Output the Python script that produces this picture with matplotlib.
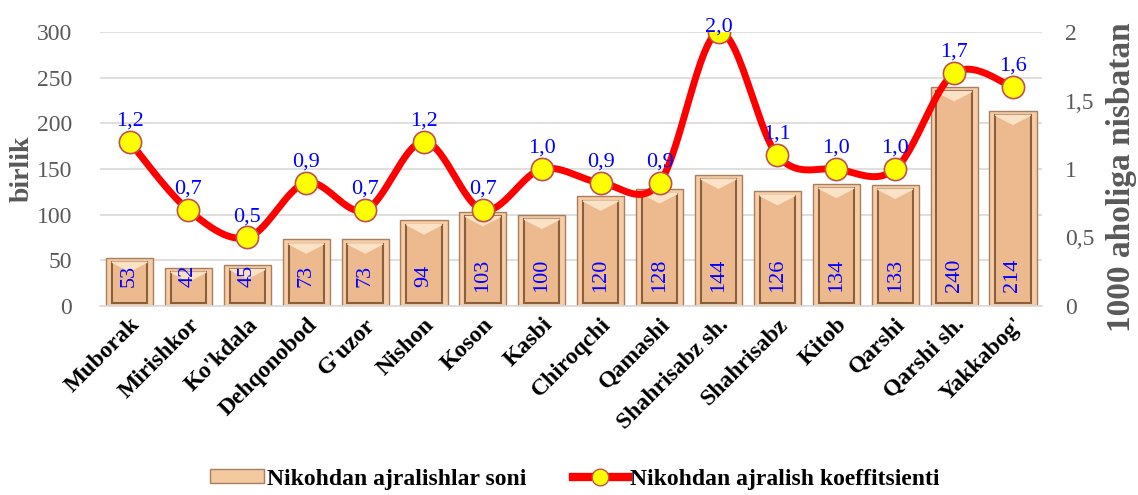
import numpy as np
import matplotlib
matplotlib.use('Agg')
import matplotlib.pyplot as plt
from matplotlib.patches import Rectangle
from matplotlib.lines import Line2D

plt.rcParams['font.family'] = ['Liberation Serif', 'DejaVu Serif']

# data
districts = ["Muborak", "Mirishkor", "Ko'kdala", "Dehqonobod", "G'uzor", "Nishon",
             "Koson", "Kasbi", "Chiroqchi", "Qamashi", "Shahrisabz sh.", "Shahrisabz",
             "Kitob", "Qarshi", "Qarshi sh.", "Yakkabog'"]
divorces = [53, 42, 45, 73, 73, 94, 103, 100, 120, 128, 144, 126, 134, 133, 240, 214]
coef = [1.2, 0.7, 0.5, 0.9, 0.7, 1.2, 0.7, 1.0, 0.9, 0.9, 2.0, 1.1, 1.0, 1.0, 1.7, 1.6]

gray = '#595959'
blue = '#0000FF'

fig = plt.figure(figsize=(11.38, 4.95), dpi=100)
ax = fig.add_axes([0.088, 0.382, 0.828, 0.553])
ax2 = ax.twinx()

x = np.arange(len(districts))

# bars with a bevel look
ax.bar(x, divorces, width=0.8, color='#F6CDA6', edgecolor='#A87E5E', linewidth=1.0, zorder=2)
inner_h = [max(v - 8, 0) for v in divorces]
ax.bar(x, inner_h, width=0.6, bottom=3, color='#EDBA8F', edgecolor='#8B5E3C',
       linewidth=1.5, zorder=3)
for i, v in enumerate(divorces):
    ax.add_patch(plt.Polygon([[i - 0.3, v - 5], [i + 0.3, v - 5], [i, v - 15]],
                             closed=True, color='#FAE2C6', zorder=4))
    ax.text(i, 33, str(v), rotation=90, ha='center', va='center', color=blue,
            fontsize=16, zorder=5)

ax.set_ylim(0, 300)
ax.set_xlim(-0.5, len(districts) - 0.5)
ax.set_yticks(range(0, 301, 50))
ax.yaxis.grid(True, color='#D9D9D9', linewidth=1.2, zorder=0)
ax.set_axisbelow(True)
ax.tick_params(axis='y', length=0, labelsize=17, labelcolor=gray, pad=20)
ax.set_xticks(x)
ax.set_xticklabels(districts, rotation=45, ha='right', rotation_mode='anchor',
                   fontsize=17, fontweight='bold')
ax.tick_params(axis='x', length=0, pad=6)
for s in ['top', 'right', 'left']:
    ax.spines[s].set_visible(False)
ax.spines['bottom'].set_color('#D9D9D9')
ax.spines['bottom'].set_linewidth(1.2)
ax.set_ylabel('birlik', fontsize=20, fontweight='bold', color=gray, labelpad=2)

# smoothed line (Bezier through points, like Excel smoothing)
xs, ys = [], []
p = np.array(list(zip(x, coef)), dtype=float)
n = len(p)
for i in range(n - 1):
    p0 = p[i - 1] if i > 0 else p[i]
    p1 = p[i]
    p2 = p[i + 1]
    p3 = p[i + 2] if i + 2 < n else p[i + 1]
    c1 = p1 + (p2 - p0) / 6
    c2 = p2 - (p3 - p1) / 6
    t = np.linspace(0, 1, 30)[:, None]
    seg = (1 - t) ** 3 * p1 + 3 * (1 - t) ** 2 * t * c1 + 3 * (1 - t) * t ** 2 * c2 + t ** 3 * p2
    xs.extend(seg[:, 0])
    ys.extend(seg[:, 1])
ax2.plot(xs, ys, color='#FF0000', linewidth=5, zorder=6, solid_capstyle='round')
ax2.plot(x, coef, linestyle='none', marker='o', markersize=16, markerfacecolor='#FFFF00',
         markeredgecolor='#C0504D', markeredgewidth=1.2, zorder=7)
for i, c in enumerate(coef):
    off = 15 if c + 0.15 <= 2.0 else 4
    ax2.annotate(f'{c:.1f}'.replace('.', ','), (i, c), xytext=(0, off),
                 textcoords='offset points', ha='center', va='center',
                 color=blue, fontsize=16, zorder=8)

ax2.set_ylim(0, 2)
ax2.set_yticks([0, 0.5, 1, 1.5, 2])
ax2.set_yticklabels(['0', '0,5', '1', '1,5', '2'])
ax2.tick_params(axis='y', length=0, labelsize=17, labelcolor=gray, pad=16)
for s in ['top', 'right', 'left', 'bottom']:
    ax2.spines[s].set_visible(False)
ax2.set_ylabel('1000 aholiga nisbatan', fontsize=24, fontweight='bold', color=gray)
ax2.yaxis.set_label_coords(1.067, 0.47)

# legend
h1 = Rectangle((0, 0), 1, 1, facecolor='#F3C9A0', edgecolor='#A87E5E')
h2 = Line2D([0], [0], color='#FF0000', linewidth=6, marker='o', markersize=12,
            markerfacecolor='#FFFF00', markeredgecolor='#C0504D')
fig.legend([h1, h2], ['Nikohdan ajralishlar soni', 'Nikohdan ajralish koeffitsienti'],
           loc='lower center', bbox_to_anchor=(0.505, -0.032), ncol=2, frameon=False,
           prop={'weight': 'bold', 'size': 17}, handlelength=2.3, handleheight=0.5,
           columnspacing=2.0, handletextpad=0.1)

fig.savefig('out.png', dpi=100)
